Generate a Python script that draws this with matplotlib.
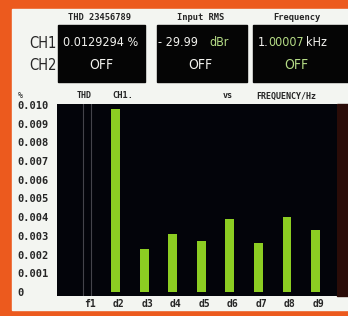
import matplotlib
matplotlib.use('Agg')
import matplotlib.pyplot as plt
from matplotlib.patches import Rectangle
import numpy as np

# harmonic distortion readings, CH1
categories = ['f1', 'd2', 'd3', 'd4', 'd5', 'd6', 'd7', 'd8', 'd9']
thd_values = [0.0, 0.0098, 0.0023, 0.0031, 0.0027, 0.0039, 0.0026, 0.0040, 0.0033]
y_ticks = [0, 0.001, 0.002, 0.003, 0.004, 0.005, 0.006, 0.007, 0.008, 0.009, 0.010]
y_tick_labels = ['0', '0.001', '0.002', '0.003', '0.004', '0.005',
                 '0.006', '0.007', '0.008', '0.009', '0.010']

# readout panel
headers = ['THD 23456789', 'Input RMS', 'Frequency']
channels = ['CH1', 'CH2']
ch2_readings = ['OFF', 'OFF', 'OFF']

"""colours"""
orange = '#EC5A1E'
panel = '#F3F5F1'
screen = '#03040A'
bar_green = '#8CCD22'
lcd_white = '#F2F2EE'
lcd_green = '#B5DC86'
ink = '#262626'

mono = ['DejaVu Sans Mono']
lcd = dict(family='DejaVu Sans', stretch='condensed')

fig = plt.figure(figsize=(3.48, 3.16), dpi=100)
fig.patch.set_facecolor(orange)

# background in pixel coordinates
bg = fig.add_axes([0, 0, 1, 1])
bg.set_xlim(0, 348)
bg.set_ylim(316, 0)
bg.axis('off')
bg.add_patch(Rectangle((12, 9), 340, 301, color=panel))

boxes = [(58, 87), (157, 90), (253, 95)]
header_x = [99, 201, 297]
for (bx, bw), hx, head in zip(boxes, header_x, headers):
    bg.add_patch(Rectangle((bx, 25), bw, 57, color='#050505'))
    bg.text(hx, 17, head, family=mono, fontsize=6.3, weight='bold',
            color=ink, ha='center', va='center')

for ch, cy in zip(channels, [43, 65]):
    bg.text(43, cy, ch, fontsize=10.5, color=ink, ha='center', va='center', **lcd)

# CH1 readouts
v = dict(fontsize=9, va='center', **lcd)
bg.text(101, 43, '0.0129294 %', color=lcd_white, ha='center', **v)
bg.text(158, 43, '- 29.99', color=lcd_white, ha='left', **v)
bg.text(209, 43, 'dBr', color=lcd_green, ha='left', **v)
bg.text(258, 43, '1.', color=lcd_white, ha='left', **v)
bg.text(268.5, 43, '00007', color=lcd_green, ha='left', **v)
bg.text(306, 43, 'kHz', color=lcd_white, ha='left', **v)

# CH2 readouts
ch2_x = [101, 200, 296]
ch2_colors = [lcd_white, lcd_white, lcd_green]
for cx, txt, c in zip(ch2_x, ch2_readings, ch2_colors):
    bg.text(cx, 65, txt, fontsize=10, color=c, ha='center', va='center', **lcd)

# labels above the graph
bg.text(20, 96, '%', family=mono, fontsize=6, color=ink, ha='center', va='center')
bg.text(84, 96, 'THD', family=mono, fontsize=6, weight='bold', color=ink,
        ha='center', va='center')
bg.text(112, 96, 'CH1.', family=mono, fontsize=6.3, weight='bold', color=ink,
        ha='left', va='center')
bg.text(228, 96, 'vs', family=mono, fontsize=6, weight='bold', color=ink,
        ha='center', va='center')
bg.text(256, 96, 'FREQUENCY/Hz', family=mono, fontsize=6, weight='bold',
        color=ink, ha='left', va='center')

# dark edge of the screen on the right
bg.add_patch(Rectangle((337, 104), 11, 192, color='#2A0C08'))

"""bar graph"""
ax = fig.add_axes([57 / 348, 20 / 316, 280 / 348, 192 / 316])
ax.set_facecolor(screen)
for s in ax.spines.values():
    s.set_visible(False)

x = np.arange(len(categories))
w = 0.31
ax.bar(x, thd_values, width=w, color=bar_green)
ax.axvline(x[0] - w / 2, color='#707078', lw=0.8, alpha=0.6)
ax.axvline(x[0] + w / 2, color='#707078', lw=0.8, alpha=0.6)

ax.set_xlim(-1.05, 8.75)
ax.set_ylim(-0.000214, 0.01005)

ax.set_yticks(y_ticks, y_tick_labels)
ax.tick_params(axis='y', length=0, pad=28.8, labelsize=7.5, labelcolor=ink)
for lbl in ax.get_yticklabels():
    lbl.set_ha('left')
    lbl.set_family(mono)
    lbl.set_weight('bold')

ax.set_xticks(x + 0.1, categories)
ax.tick_params(axis='x', length=0, pad=2, labelsize=7, labelcolor=ink)
for lbl in ax.get_xticklabels():
    lbl.set_family(mono)
    lbl.set_weight('bold')

fig.savefig('out.png', dpi=100)
